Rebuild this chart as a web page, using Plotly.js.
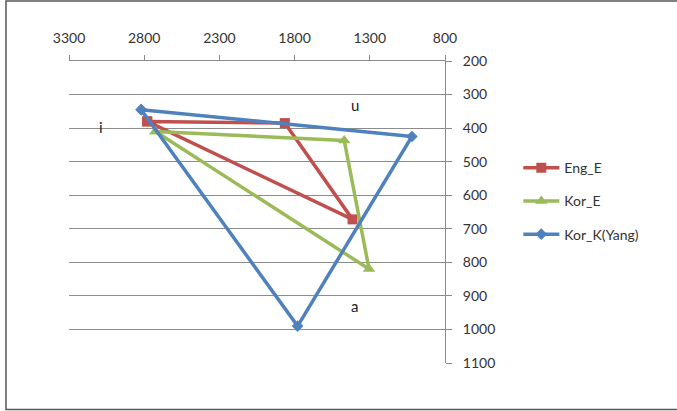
<!DOCTYPE html>
<html>
<head>
<meta charset="utf-8">
<script src="https://cdn.plot.ly/plotly-3.0.1.min.js"></script>
<style>
  html, body { margin: 0; padding: 0; background: #fff; }
  #chart { width: 677px; height: 411px; }
</style>
</head>
<body>
<div id="chart"></div>
<script>
// Vowel formant data (F2 on x, F1 on y); each series closes the triangle i-u-a-i
var vowels = ['i', 'u', 'a', 'i'];

var engE_F2 = [2780, 1865, 1415, 2780];
var engE_F1 = [380, 385, 672, 380];

var korE_F2 = [2725, 1470, 1305, 2725];
var korE_F1 = [410, 437, 820, 410];

var korK_F2 = [2820, 1020, 1780, 2820];
var korK_F1 = [345, 425, 990, 345];

var seriesNames = ['Eng_E', 'Kor_E', 'Kor_K(Yang)'];

var xTickVals = [3300, 2800, 2300, 1800, 1300, 800];
var yTickVals = [200, 300, 400, 500, 600, 700, 800, 900, 1000, 1100];

var labelText = ['i', 'u', 'a'];
var labelF2 = [3085, 1400, 1400];
var labelF1 = [398, 332, 930];

var fontFam = 'Lato, "Open Sans", sans-serif';
var textColor = '#333333';

function mk(x, y, name, color, symbol, size, group) {
  return {
    type: 'scatter', mode: 'lines+markers',
    x: x, y: y, name: name, text: vowels,
    legendgroup: group,
    line: { color: color, width: 3.5 },
    marker: { color: color, symbol: symbol, size: size }
  };
}

var traces = [
  mk(engE_F2, engE_F1, seriesNames[0], '#C0504D', 'square', 10, 'g1'),
  mk(korE_F2, korE_F1, seriesNames[1], '#9BBB59', 'triangle-up', 11, 'g2'),
  mk(korK_F2, korK_F1, seriesNames[2], '#4F81BD', 'diamond', 9, 'g3')
];

var annotations = labelText.map(function (t, i) {
  return {
    x: labelF2[i], y: labelF1[i], xref: 'x', yref: 'y', text: t,
    showarrow: false, font: { family: fontFam, size: 15, color: '#222' }
  };
});

var layout = {
  width: 677, height: 411,
  margin: { l: 69, r: 232, t: 61, b: 48 },
  paper_bgcolor: '#ffffff', plot_bgcolor: '#ffffff',
  showlegend: true,
  legend: {
    x: 1.195, y: 0.536, xanchor: 'left', yanchor: 'middle',
    font: { family: fontFam, size: 14, color: textColor },
    tracegroupgap: 12, traceorder: 'grouped', itemwidth: 36,
    bgcolor: 'rgba(0,0,0,0)'
  },
  xaxis: {
    side: 'top', range: [3300, 800], autorange: false,
    tickmode: 'array', tickvals: xTickVals,
    showgrid: false, zeroline: false,
    showline: true, linecolor: '#8a8a8a', linewidth: 1,
    ticks: 'outside', ticklen: 5, tickcolor: '#8a8a8a',
    tickfont: { family: fontFam, size: 14, color: textColor },
    ticklabelstandoff: 6
  },
  yaxis: {
    side: 'right', range: [1100, 200], autorange: false,
    tickmode: 'array', tickvals: yTickVals,
    showgrid: true, gridcolor: '#8c8c8c', gridwidth: 1,
    zeroline: false,
    showline: true, linecolor: '#8a8a8a', linewidth: 1,
    ticks: 'outside', ticklen: 6, tickcolor: '#8a8a8a',
    tickfont: { family: fontFam, size: 14, color: textColor },
    ticklabelstandoff: 8
  },
  annotations: annotations,
  shapes: [{
    type: 'rect', xref: 'paper', yref: 'paper',
    x0: -0.1676, x1: 1.62, y0: -0.154, y1: 1.199,
    line: { color: '#555555', width: 1.5 }, layer: 'below'
  }]
};

Plotly.newPlot('chart', traces, layout, { displayModeBar: false, staticPlot: true });
</script>
</body>
</html>
